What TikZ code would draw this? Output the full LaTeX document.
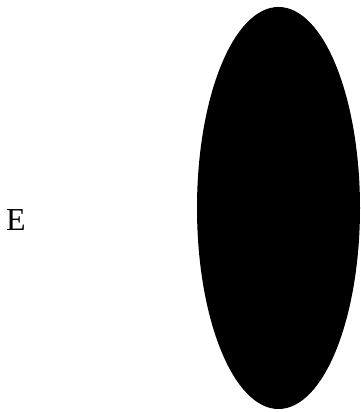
\documentclass[tikz,border=0pt]{standalone}
\usepackage{fontspec}
\setmainfont{Liberation Serif}
\usepackage{tikz}
\usetikzlibrary{positioning, shapes.geometric}

\begin{document}
\begin{tikzpicture}[x=1pt,y=1pt,
  blob/.style={ellipse,fill=black,inner sep=0pt,
               minimum width=163pt,minimum height=402pt},
  lbl/.style={font=\fontsize{32}{36}\selectfont,inner sep=0pt}]
  \useasboundingbox (0,0) rectangle (361,412);
  \node[blob] (E) at (278.5,204) {};
  \node[lbl] (Etext) at (16,191.5) {E};
\end{tikzpicture}
\end{document}
